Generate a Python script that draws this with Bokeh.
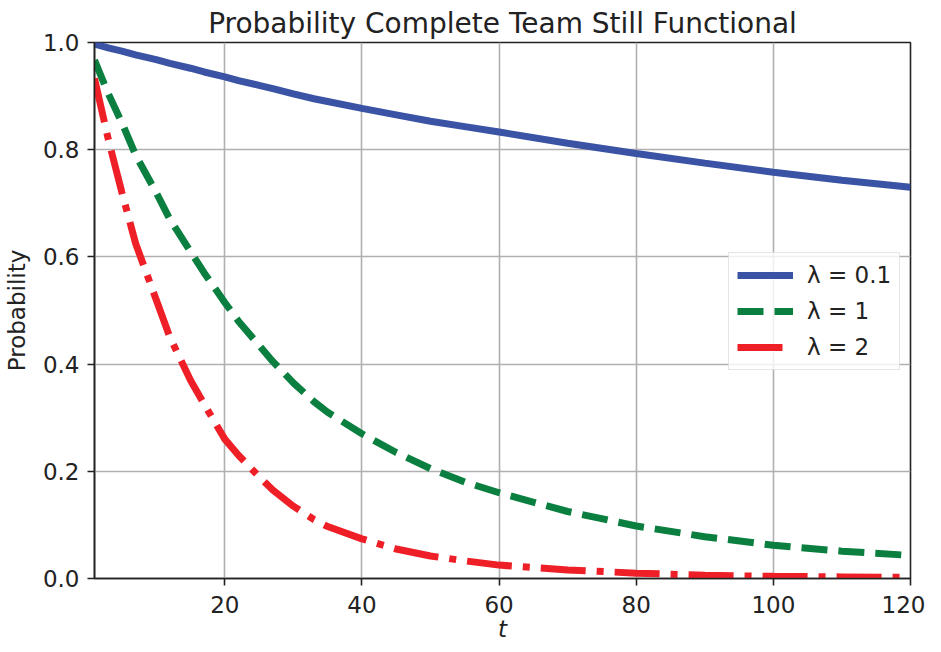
from bokeh.plotting import figure
from bokeh.models import FixedTicker, Range1d, Legend, LegendItem, PrintfTickFormatter
from bokeh.embed import file_html
from bokeh.resources import INLINE

# Data
t_vals = [1, 3, 5, 7, 10, 12, 15, 17, 20, 22, 25, 27, 30, 33, 35, 40, 45, 50,
          55, 60, 70, 80, 90, 100, 110, 120]
p_lam_01 = [0.997, 0.990, 0.984, 0.977, 0.968, 0.961, 0.952, 0.945, 0.936,
            0.929, 0.920, 0.914, 0.904, 0.895, 0.890, 0.877, 0.865, 0.853,
            0.843, 0.833, 0.812, 0.793, 0.775, 0.758, 0.743, 0.730]
p_lam_1 = [0.967, 0.905, 0.850, 0.790, 0.720, 0.670, 0.610, 0.570, 0.515,
           0.480, 0.435, 0.405, 0.365, 0.330, 0.310, 0.270, 0.235, 0.205,
           0.180, 0.160, 0.125, 0.098, 0.078, 0.062, 0.051, 0.043]
p_lam_2 = [0.933, 0.820, 0.720, 0.625, 0.520, 0.450, 0.370, 0.325, 0.260,
           0.230, 0.190, 0.165, 0.135, 0.110, 0.097, 0.074, 0.055, 0.042,
           0.033, 0.025, 0.016, 0.010, 0.006, 0.004, 0.003, 0.002]
labels = ["λ = 0.1", "λ = 1", "λ = 2"]
x_ticks = [20, 40, 60, 80, 100, 120]
y_ticks = [0.0, 0.2, 0.4, 0.6, 0.8, 1.0]
x_label = "t"
y_label = "Probability"

FONT = "DejaVu Sans"

p = figure(width=925, height=644, output_backend="svg", toolbar_location=None,
           x_range=Range1d(1, 120), y_range=Range1d(0, 1),
           title="Probability Complete Team Still Functional",
           min_border_left=86, min_border_right=15, min_border_top=42,
           min_border_bottom=66)

p.title.align = "center"
p.title.text_font = FONT
p.title.text_font_size = "28px"
p.title.text_font_style = "normal"
p.title.text_color = "#222222"
p.title.standoff = 6

p.outline_line_color = "#222222"
p.outline_line_width = 1.6
p.outline_line_alpha = 1.0

for ax in (p.xaxis[0], p.yaxis[0]):
    ax.axis_line_color = "#222222"
    ax.axis_line_width = 1.6
    ax.major_tick_line_color = "#222222"
    ax.major_tick_line_width = 1.6
    ax.major_tick_out = 7
    ax.major_tick_in = 0
    ax.minor_tick_line_color = None
    ax.major_label_text_font = FONT
    ax.major_label_text_font_size = "23px"
    ax.major_label_text_color = "#222222"
    ax.axis_label_text_font = FONT
    ax.axis_label_text_font_size = "23px"
    ax.axis_label_text_color = "#222222"

p.xaxis[0].ticker = FixedTicker(ticks=x_ticks)
p.yaxis[0].ticker = FixedTicker(ticks=y_ticks)
p.yaxis[0].formatter = PrintfTickFormatter(format="%.1f")
p.xaxis[0].axis_label = x_label
p.xaxis[0].axis_label_text_font_style = "italic"
p.xaxis[0].major_label_standoff = 10
p.xaxis[0].axis_label_standoff = 0
p.yaxis[0].axis_label = y_label
p.yaxis[0].axis_label_text_font_style = "normal"
p.yaxis[0].major_label_standoff = 8
p.yaxis[0].axis_label_standoff = 10

p.xgrid.ticker = FixedTicker(ticks=x_ticks)
p.ygrid.ticker = FixedTicker(ticks=y_ticks)
for g in (p.xgrid[0], p.ygrid[0]):
    g.grid_line_color = "#b0b0b0"
    g.grid_line_width = 1.6

r1 = p.line(t_vals, p_lam_01, line_color="#3a53a4", line_width=7)
r2 = p.line(t_vals, p_lam_1, line_color="#0a7f3f", line_width=7,
            line_dash="26 11")
r3 = p.line(t_vals, p_lam_2, line_color="#ee1f26", line_width=7,
            line_dash="45 11 7 11")

legend = Legend(items=[LegendItem(label=labels[0], renderers=[r1]),
                       LegendItem(label=labels[1], renderers=[r2]),
                       LegendItem(label=labels[2], renderers=[r3])],
                location=(634, 208))
legend.label_text_font = FONT
legend.label_text_font_size = "23px"
legend.label_text_color = "#222222"
legend.glyph_width = 56
legend.glyph_height = 28
legend.label_height = 28
legend.label_standoff = 14
legend.spacing = 8
legend.padding = 8
legend.margin = 0
legend.border_line_color = "#cccccc"
legend.border_line_width = 1.6
legend.background_fill_alpha = 0.8
p.add_layout(legend, "center")

open("out.html", "w").write(file_html(p, INLINE))
